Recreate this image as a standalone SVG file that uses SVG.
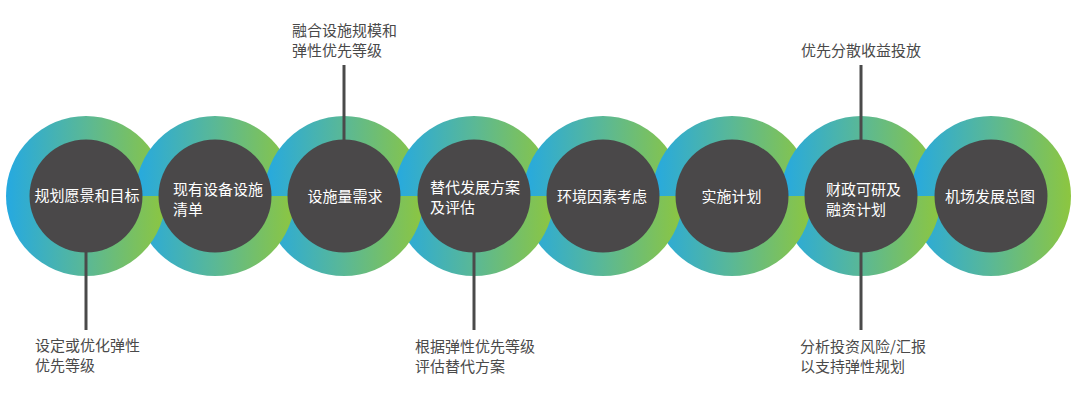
<svg xmlns="http://www.w3.org/2000/svg" width="1080" height="402" viewBox="0 0 1080 402">
<defs>
<linearGradient id="ringGrad" x1="0" y1="0" x2="1" y2="0">
<stop offset="0" stop-color="#25a9e1"/>
<stop offset="0.5" stop-color="#5ab896"/>
<stop offset="1" stop-color="#8dc63f"/>
</linearGradient>
<clipPath id="topHalf"><rect x="0" y="0" width="1080" height="196"/></clipPath>
<clipPath id="bottomHalf"><rect x="0" y="196" width="1080" height="206"/></clipPath>
</defs>
<style>
.ring{fill:url(#ringGrad)}
.core{fill:#4a4849}
.in{font-family:"Noto Sans CJK SC","Noto Sans",sans-serif;font-size:15px;fill:#ffffff}
.mid{text-anchor:middle}
.note{font-family:"Noto Sans CJK SC","Noto Sans",sans-serif;font-size:15px;fill:#4a4a4a}
.link{stroke:#4a4a4a;stroke-width:3;fill:none}
</style>
<rect width="1080" height="402" fill="#ffffff"/>
<g id="rings">
<g clip-path="url(#topHalf)">
<circle class="ring" cx="86" cy="196" r="80"/>
<circle class="ring" cx="215" cy="196" r="80"/>
<circle class="ring" cx="344" cy="196" r="80"/>
<circle class="ring" cx="474" cy="196" r="80"/>
<circle class="ring" cx="603" cy="196" r="80"/>
<circle class="ring" cx="732" cy="196" r="80"/>
<circle class="ring" cx="861" cy="196" r="80"/>
<circle class="ring" cx="991" cy="196" r="80"/>
</g>
<g clip-path="url(#bottomHalf)">
<circle class="ring" cx="991" cy="196" r="80"/>
<circle class="ring" cx="861" cy="196" r="80"/>
<circle class="ring" cx="732" cy="196" r="80"/>
<circle class="ring" cx="603" cy="196" r="80"/>
<circle class="ring" cx="474" cy="196" r="80"/>
<circle class="ring" cx="344" cy="196" r="80"/>
<circle class="ring" cx="215" cy="196" r="80"/>
<circle class="ring" cx="86" cy="196" r="80"/>
</g>
</g>
<g id="connectors">
<line class="link" x1="86" y1="250" x2="86" y2="330"/>
<line class="link" x1="344" y1="65" x2="344" y2="142"/>
<line class="link" x1="474" y1="250" x2="474" y2="330"/>
<line class="link" x1="861" y1="65" x2="861" y2="330"/>
</g>
<g id="node1">
<circle class="core" cx="86" cy="196" r="56.5"/>
<text class="in mid" x="87" y="201">规划愿景和目标</text>
</g>
<g id="node2">
<circle class="core" cx="215" cy="196" r="56.5"/>
<text class="in" x="173" y="195">现有设备设施</text>
<text class="in" x="173" y="215">清单</text>
</g>
<g id="node3">
<circle class="core" cx="344" cy="196" r="56.5"/>
<text class="in mid" x="345" y="202">设施量需求</text>
</g>
<g id="node4">
<circle class="core" cx="474" cy="196" r="56.5"/>
<text class="in" x="430" y="193">替代发展方案</text>
<text class="in" x="430" y="213">及评估</text>
</g>
<g id="node5">
<circle class="core" cx="603" cy="196" r="56.5"/>
<text class="in mid" x="602" y="202">环境因素考虑</text>
</g>
<g id="node6">
<circle class="core" cx="732" cy="196" r="56.5"/>
<text class="in mid" x="731.5" y="202">实施计划</text>
</g>
<g id="node7">
<circle class="core" cx="861" cy="196" r="56.5"/>
<text class="in" x="826" y="195">财政可研及</text>
<text class="in" x="826" y="215">融资计划</text>
</g>
<g id="node8">
<circle class="core" cx="991" cy="196" r="56.5"/>
<text class="in mid" x="990" y="202">机场发展总图</text>
</g>
<g id="note1">
<text class="note" x="35" y="351">设定或优化弹性</text>
<text class="note" x="35" y="371">优先等级</text>
</g>
<g id="note3">
<text class="note" x="292" y="36">融合设施规模和</text>
<text class="note" x="292" y="56">弹性优先等级</text>
</g>
<g id="note4">
<text class="note" x="415" y="352">根据弹性优先等级</text>
<text class="note" x="415" y="372">评估替代方案</text>
</g>
<g id="note7top">
<text class="note" x="801" y="56">优先分散收益投放</text>
</g>
<g id="note7bottom">
<text class="note" x="800" y="352">分析投资风险/汇报</text>
<text class="note" x="800" y="372">以支持弹性规划</text>
</g>
</svg>
